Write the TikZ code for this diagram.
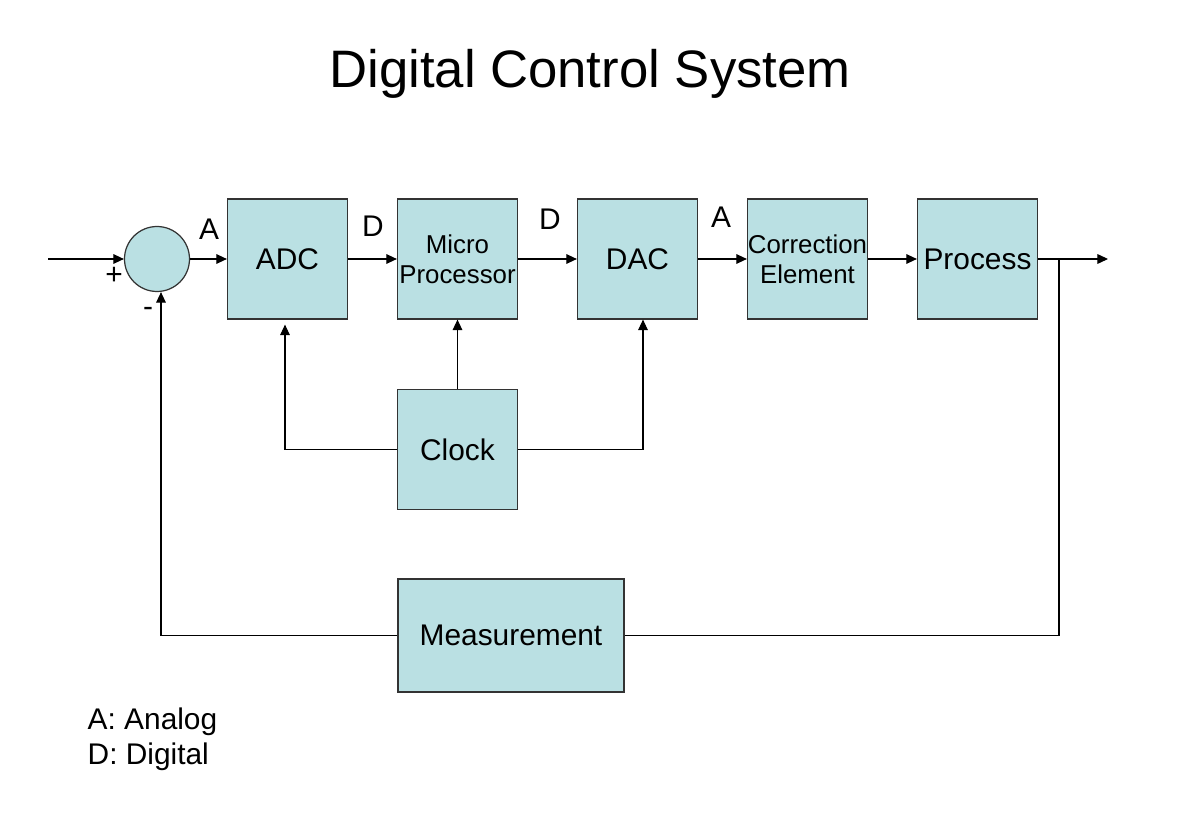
\documentclass[tikz,border=0pt]{standalone}
\usepackage{fontspec}
\setmainfont{Liberation Sans}
\usepackage{tikz}
\usetikzlibrary{arrows.meta,shapes,calc,positioning}
\definecolor{boxfill}{RGB}{186,224,227}
\tikzset{
         blockbox/.style={draw=black!80,fill=boxfill,line width=0.7pt,minimum width=2.4cm,minimum height=2.4cm,inner sep=0pt,align=center,font=\fontsize{17}{20}\selectfont},
         smalltext/.style={font=\fontsize{14.7}{17}\selectfont},
         sumcircle/.style={draw=black!80,fill=boxfill,line width=0.7pt,circle,minimum size=1.3cm,inner sep=0pt},
         sig/.style={font=\fontsize{17}{20}\selectfont},
         wire/.style={line width=0.6pt}
        }

\begin{document}
\begin{tikzpicture}[>={Triangle[length=6pt,width=5.5pt]}]

\useasboundingbox (0,0) rectangle (23.54,16.3); % page

%%% Title
\node[font=\fontsize{30}{36}\selectfont] (title) at (11.8,14.82) {Digital Control System}; % title

%%% Forward path
\node[sumcircle] (sum) at (3.14,11.12) {}; % summing junction
\node[blockbox] (adc) at (5.75,11.12) {ADC}; % ADC
\node[blockbox,smalltext] (mp) at (9.15,11.12) {Micro\\Processor}; % micro processor
\node[blockbox] (dac) at (12.75,11.12) {DAC}; % DAC
\node[blockbox,smalltext] (corr) at (16.15,11.12) {Correction\\Element}; % correction element
\node[blockbox] (proc) at (19.55,11.12) {Process}; % process
\node[blockbox] (clock) at (9.15,7.31) {Clock}; % clock
\node[blockbox,minimum width=4.52cm,minimum height=2.26cm] (meas) at (10.22,3.59) {Measurement}; % measurement

\coordinate (in) at (0.96,11.12); % input end
\coordinate (tap) at (21.18,11.12); % output branch point
\coordinate (out) at (22.16,11.12); % output end

%%% Signal labels
\node[sig] (la1) at (4.18,11.72) {A}; % A label
\node[sig] (ld1) at (7.46,11.78) {D}; % D label
\node[sig] (ld2) at (11.0,11.92) {D}; % D label
\node[sig] (la2) at (14.42,11.96) {A}; % A label
\node[sig] (plus) at (2.28,10.78) {+}; % + label
\node[sig] (minus) at (2.96,10.06) {-}; % - label

%%% Wiring
\draw[wire,->] (in) -- (sum.west); % input
\draw[wire,->] (sum.east) -- (adc.west); % wiring
\draw[wire,->] (adc.east) -- (mp.west); % wiring
\draw[wire,->] (mp.east) -- (dac.west); % wiring
\draw[wire,->] (dac.east) -- (corr.west); % wiring
\draw[wire,->] (corr.east) -- (proc.west); % wiring
\draw[wire,->] (proc.east) -- (out); % output
\draw[wire,->] (clock.north) -- (mp.south); % clock to micro processor
\draw[wire,->] (clock.west) -| ($(adc.south)+(-0.05,-0.1)$); % clock to ADC
\draw[wire,->] (clock.east) -| ($(dac.south)+(0.11,0)$); % clock to DAC
\draw[wire] (tap) |- (meas.east); % feedback
\draw[wire,->] (meas.west) -| ($(sum.south)+(0.08,0)$); % feedback to junction

%%% Legend
\node[sig,anchor=west] (lega) at (1.63,1.86) {A: Analog}; % legend A
\node[sig,anchor=west] (legd) at (1.63,1.16) {D: Digital}; % legend D

\end{tikzpicture}
\end{document}
